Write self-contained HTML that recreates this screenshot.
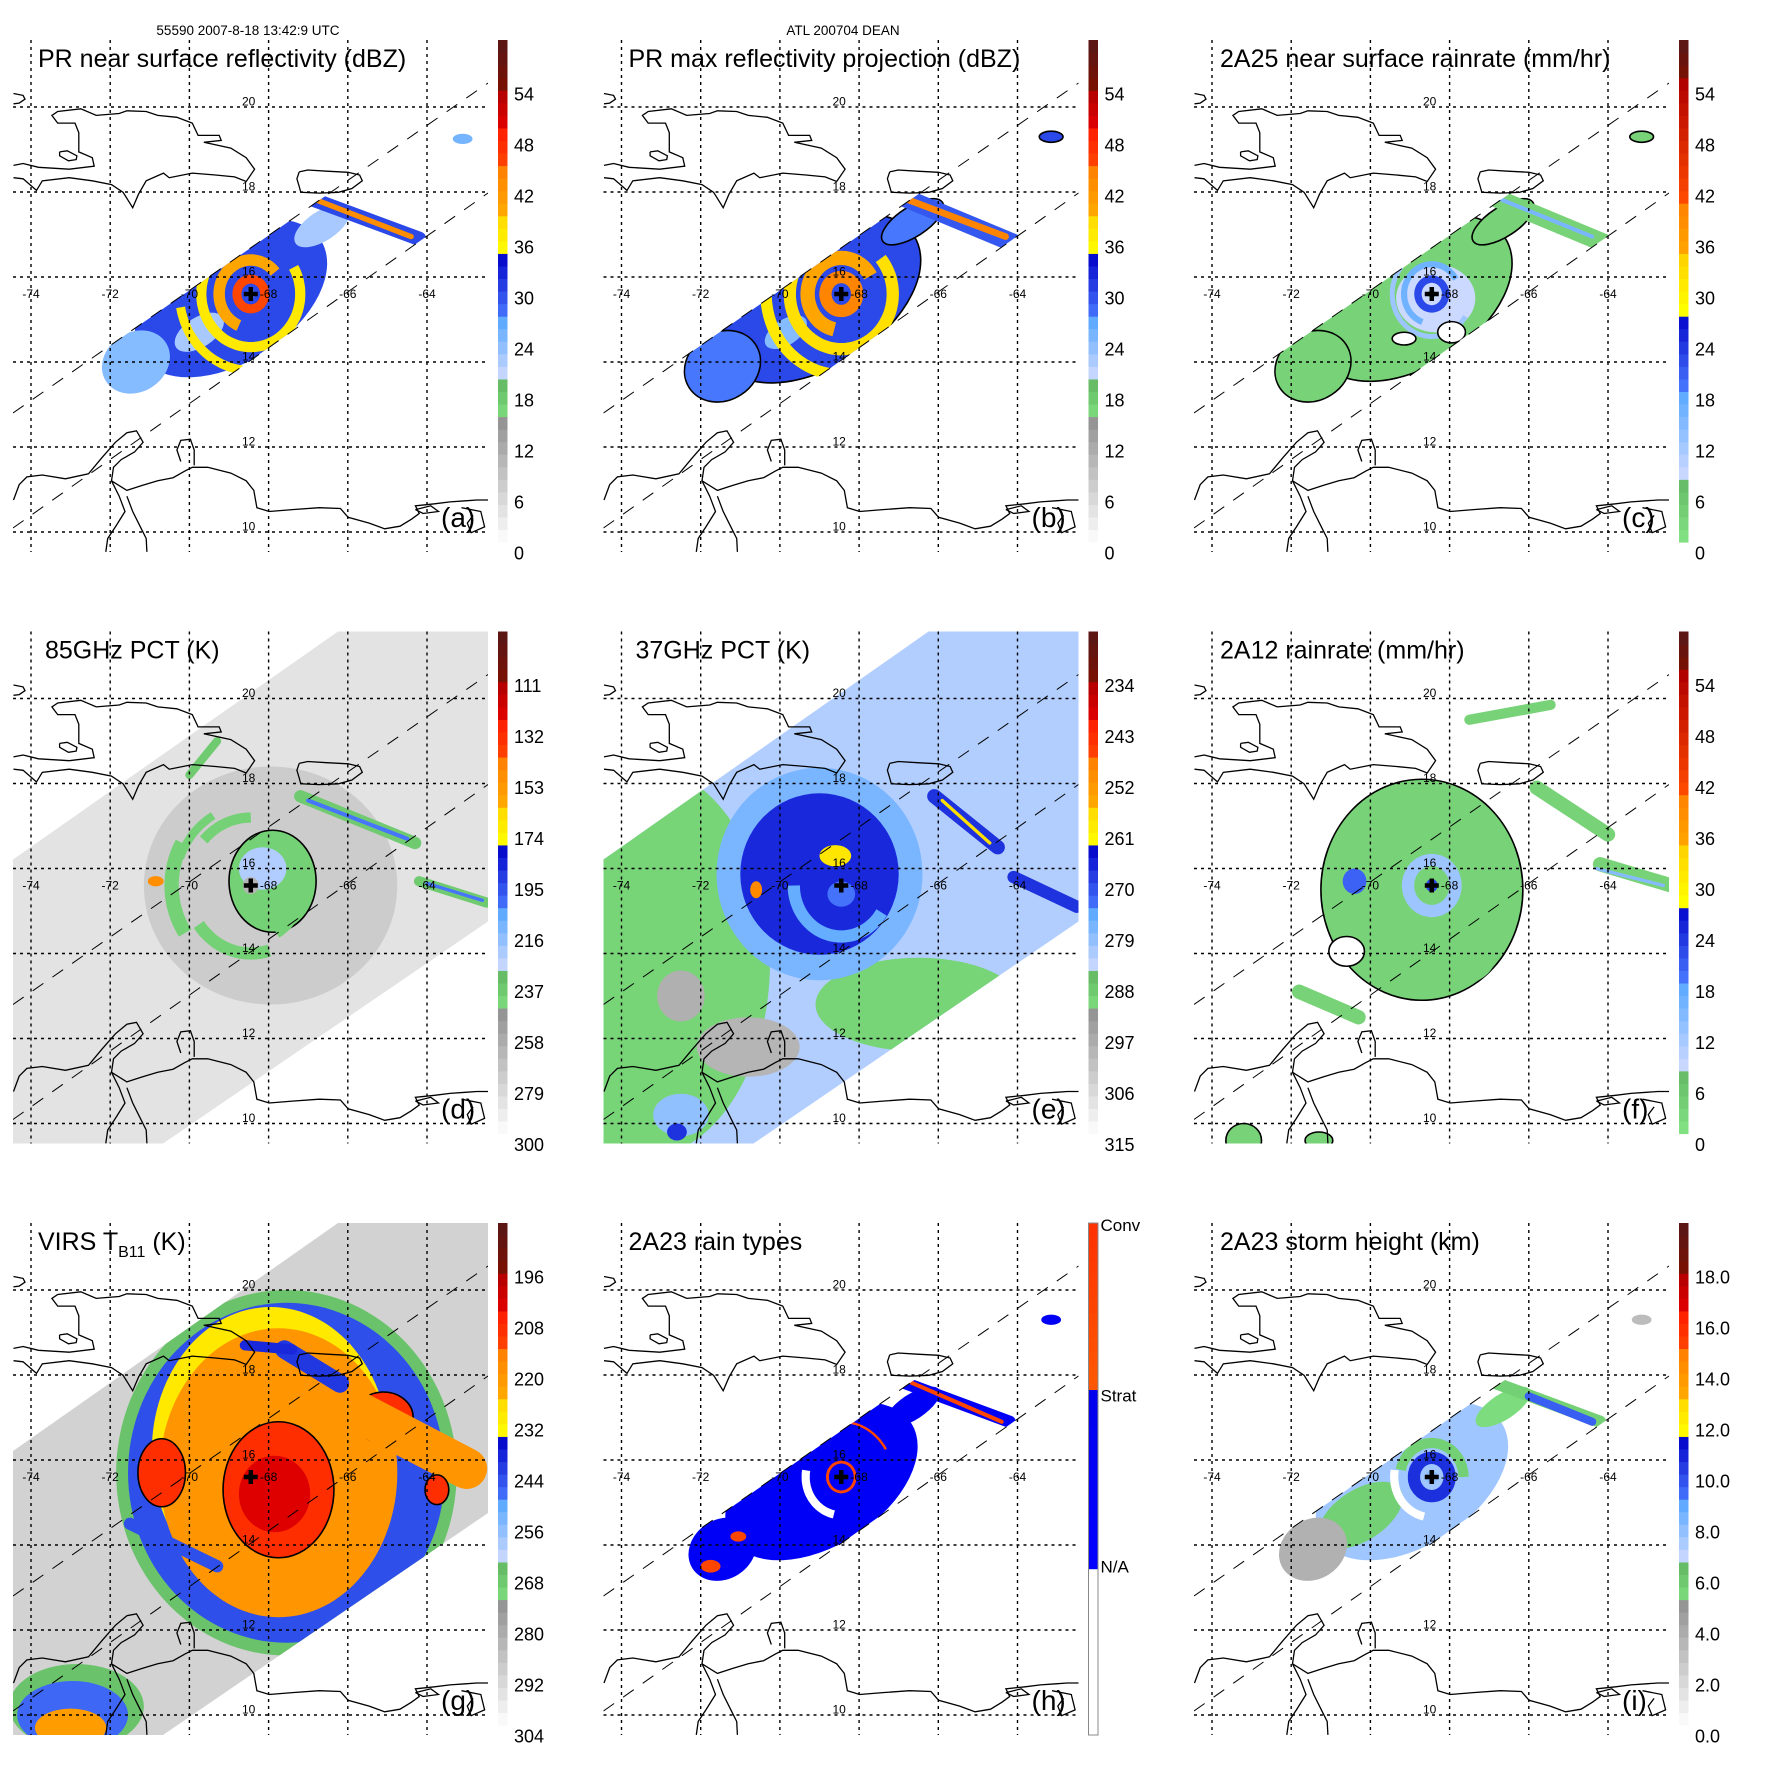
<!DOCTYPE html>
<html><head><meta charset="utf-8"><title>TRMM Hurricane Dean 9-panel</title>
<style>body{margin:0;background:#fff}svg{display:block;font-family:"Liberation Sans",sans-serif}</style></head>
<body>
<svg id="fig" width="1771" height="1771" viewBox="0 0 1771 1771" xmlns="http://www.w3.org/2000/svg">
<rect width="1771" height="1771" fill="#fff"/>
<text x="248" y="35" font-size="13.5" text-anchor="middle">55590 2007-8-18 13:42:9 UTC</text>
<text x="843" y="35" font-size="13.5" text-anchor="middle">ATL 200704 DEAN</text>
</svg>
<script>
// ---------- data ----------
const stormCenter=[-68.45,15.6];
const latTicks=[20,18,16,14,12,10];
const lonTicks=[-74,-72,-70,-68,-66,-64];
const panelIds=['a','b','c','d','e','f','g','h','i'];
const panelTitles=['PR near surface reflectivity (dBZ)','PR max reflectivity projection (dBZ)','2A25 near surface rainrate (mm/hr)','85GHz PCT (K)','37GHz PCT (K)','2A12 rainrate (mm/hr)','VIRS T','2A23 rain types','2A23 storm height (km)'];
const titleX=[25,25,26,32,32,26,25,25,26];
const vBottom=[0,0,0,300,315,0,304,0,0];
const vTop=[60,60,60,90,225,60,184,3,20];
const ticksDbz=['0','6','12','18','24','30','36','42','48','54'];
const ticksRain=['0','6','12','18','24','30','36','42','48','54'];
const ticks85=['300','279','258','237','216','195','174','153','132','111'];
const ticks37=['315','306','297','288','279','270','261','252','243','234'];
const ticksVirs=['304','292','280','268','256','244','232','220','208','196'];
const ticksHeight=['0.0','2.0','4.0','6.0','8.0','10.0','12.0','14.0','16.0','18.0'];
const ticksType=['N/A','Strat','Conv'];
const swathKind=['pr','pr','pr','tmi','tmi','tmi','tmi','pr','pr'];
const bgValue=[null,null,null,287,283,null,292,null,null];

// features: blobs/cells [dlon,dlat,rx,ry,value,contour,rotationDeg]; arcs [r,a0,a1,w,value]; bands [lon1,lat1,lon2,lat2,w,value,contour]
const blobsA=[[-0.5,-0.1,2.7,1.5,30,0,-33],[-2.9,-1.6,0.9,0.7,24,0,-33],[1.8,1.6,0.8,0.35,22,0,-33],[5.35,3.65,0.25,0.12,25,0,0],[-1.3,-0.9,0.7,0.35,22,0,-33]];
const arcsA=[[0.35,0,360,0.22,45],[0.8,40,250,0.28,40],[1.25,150,390,0.25,37],[1.8,190,300,0.22,37]];
const bandsA=[[-67.1,17.9,-64.2,16.9,0.35,30,0],[-66.9,17.85,-64.4,16.95,0.13,43,0]];
const cellsA=[[0,0,0.12,0.12,28,0,0]];

const blobsB=[[-0.6,-0.1,2.9,1.6,30,1,-33],[-3.0,-1.7,1.0,0.8,27,1,-33],[1.8,1.7,0.9,0.35,27,1,-33],[5.3,3.7,0.3,0.13,30,1,0],[-1.4,-0.9,0.6,0.3,24,0,-33]];
const arcsB=[[0.4,0,360,0.3,44],[0.85,30,260,0.35,40],[1.3,140,400,0.3,38],[1.9,180,300,0.28,37]];
const bandsB=[[-67.2,18.0,-64.1,16.8,0.45,29,1],[-67.0,17.9,-64.3,16.95,0.16,44,0]];
const cellsB=[[0,0,0.12,0.12,30,0,0]];

const blobsC=[[-0.5,-0.1,2.8,1.6,3,1,-33],[-3.0,-1.7,1.0,0.8,3,1,-33],[1.8,1.7,0.9,0.35,3,1,-33],[5.3,3.7,0.3,0.13,3,1,0],[0.1,-0.1,1.0,0.8,8,0,0]];
const arcsC=[[0.35,0,360,0.18,22],[0.7,30,250,0.15,16],[1.0,140,330,0.12,12]];
const bandsC=[[-67.2,18.0,-64.1,16.8,0.45,3,1],[-66.9,17.9,-64.4,16.95,0.1,15,0]];
const cellsC=[[0.5,-0.9,0.35,0.25,null,1,0],[-0.7,-1.05,0.3,0.15,null,1,0],[0,0,0.1,0.1,3,0,0]];

const blobsD=[[0.5,0,3.2,2.8,276,0,0],[0.55,0.1,1.1,1.2,243,1,0],[0.3,0.4,0.6,0.5,225,0,0]];
const arcsD=[[2.0,150,215,0.35,243],[1.6,215,290,0.3,243],[1.6,90,140,0.25,243],[1.9,120,160,0.2,243],[1.3,300,350,0.25,243]];
const bandsD=[[-67.2,17.7,-64.3,16.6,0.3,240,1],[-67.0,17.6,-64.5,16.7,0.1,205,0],[-64.2,15.7,-62.5,15.2,0.25,240,1],[-64.0,15.65,-62.6,15.25,0.08,205,0],[-70.0,18.2,-69.3,19.0,0.2,240,1]];
const cellsD=[[0,0,0.2,0.2,265,0,0],[-2.4,0.1,0.2,0.12,150,0,0]];

const blobsE=[[-5.0,-1.8,3.2,4.6,291,0,0],[1.95,-2.8,2.6,1.1,291,0,0],[-2.35,-3.8,1.3,0.7,300,0,0],[-4.05,-2.6,0.6,0.6,299,0,0],[-4.05,-5.4,0.7,0.5,280,0,0],[-0.55,0.27,2.6,2.5,278,0,0],[-0.55,0.27,2.0,1.9,267,0,0]];
const arcsE=[[1.2,180,330,0.3,276]];
const bandsE=[[-66.1,17.7,-64.5,16.5,0.35,268,0],[-65.9,17.6,-64.7,16.6,0.08,258,0],[-64.1,15.8,-62.5,15.1,0.3,268,0]];
const cellsE=[[0,-0.2,0.35,0.3,274,0,0],[-0.15,0.7,0.4,0.25,259,0,0],[-2.15,-0.1,0.15,0.2,250,0,0],[-4.15,-5.8,0.25,0.2,268,0,0]];

const blobsF=[[-0.25,-0.1,2.55,2.6,3,1,0],[0.4,-1.7,1.2,0.7,3,0,0],[-4.75,-6.0,0.45,0.4,3,1,0],[-2.85,-6.0,0.35,0.2,3,1,0]];
const arcsF=[[0.6,0,360,0.3,12]];
const bandsF=[[-65.8,17.9,-64.0,16.8,0.35,3,1],[-64.2,16.1,-62.4,15.6,0.35,3,1],[-67.5,19.5,-65.45,19.85,0.25,3,1],[-71.8,13.1,-70.3,12.5,0.35,3,1],[-64.3,16.0,-62.6,15.6,0.08,14,0]];
const cellsF=[[-2.15,-1.55,0.45,0.35,null,1,0],[-1.95,0.1,0.3,0.3,20,0,0],[0,0,0.15,0.15,22,0,0]];

const blobsG=[[0.9,0.1,4.3,4.3,268,0,0],[0.9,0.1,4.0,4.0,245,0,0],[0.5,0.6,3.0,3.4,230,0,0],[0.7,0.1,3.0,3.4,220,0,0],[0.7,-0.3,1.4,1.6,209,1,0],[0.6,-0.4,0.9,0.9,204,0,0],[-2.25,0.1,0.6,0.8,209,1,0],[3.35,1.4,0.75,0.6,209,1,0],[-4.4,-5.4,1.7,1.0,268,0,0],[-4.5,-5.6,1.4,0.8,248,0,0],[-4.55,-5.9,0.9,0.45,222,0,0]];
const arcsG=[];
const bandsG=[[-66.5,17.5,-63.0,15.8,1.0,220,0],[-71.5,14.5,-69.3,13.5,0.3,245,0],[-67.6,18.6,-66.2,17.8,0.45,242,0],[-68.6,18.7,-67.4,18.6,0.25,240,0]];
const cellsG=[[4.7,-0.3,0.3,0.35,209,1,0]];

const blobsH=[[-0.5,-0.1,2.7,1.5,1.5,0,-33],[-3.0,-1.7,0.9,0.7,1.5,0,-33],[1.8,1.65,0.8,0.3,1.5,0,-33],[5.3,3.7,0.25,0.12,1.5,0,0]];
const arcsH=[[0.9,170,260,0.2,0.5],[0.35,0,360,0.07,2.5],[1.3,30,150,0.06,2.5]];
const bandsH=[[-67.1,17.9,-64.2,16.9,0.3,1.5,0],[-67.0,17.95,-64.4,16.9,0.1,2.5,0]];
const cellsH=[[-3.3,-2.1,0.25,0.15,2.5,0,0],[-2.6,-1.4,0.2,0.12,2.5,0,0]];

const blobsI=[[-0.5,-0.1,2.7,1.5,7.5,0,-33],[-1.8,-0.9,1.2,0.6,5.5,0,-33],[-3.0,-1.7,0.9,0.7,3.5,0,-33],[1.8,1.65,0.8,0.3,5,0,-33],[5.3,3.7,0.25,0.12,3,0,0]];
const arcsI=[[0.8,0,170,0.25,5.5],[0.45,0,360,0.3,10.5],[0.95,170,260,0.2,null]];
const bandsI=[[-67.1,17.9,-64.2,16.9,0.3,5.5,0],[-66.0,17.5,-64.4,16.9,0.2,9.5,0]];
const cellsI=[[0,0,0.15,0.15,8,0,0]];

// coastlines digitised in reference pixels (converted to lon/lat below)
const coastHispaniola=[[35,430],[60,425],[100,435],[180,440],[245,432],[240,410],[205,395],[205,345],[195,320],[150,320],[135,300],[150,290],[210,283],[250,300],[310,295],[330,288],[380,290],[410,300],[460,305],[500,320],[515,352],[570,352],[575,365],[530,370],[600,385],[640,410],[662,440],[640,472],[610,460],[560,455],[500,450],[440,462],[425,450],[380,470],[360,505],[345,540],[320,500],[290,480],[240,470],[180,462],[110,470],[95,495],[60,465],[35,462]];
const coastLake=[[155,395],[175,392],[200,405],[198,415],[178,418],[155,405],[155,395]];
const coastCuba=[[35,243],[60,248],[65,258],[50,268],[35,270]];
const coastPR=[[778,447],[800,442],[850,445],[905,448],[935,455],[942,470],[915,490],[880,500],[830,502],[782,500],[778,485],[772,465],[778,447]];
const coastSA=[[35,1300],[50,1260],[70,1240],[110,1235],[170,1245],[230,1232],[265,1190],[300,1150],[330,1125],[355,1120],[372,1150],[350,1175],[315,1195],[295,1215],[290,1250],[330,1275],[370,1262],[410,1250],[450,1242],[480,1225],[500,1215],[540,1215],[600,1230],[640,1250],[660,1275],[668,1320],[700,1330],[760,1325],[830,1320],[885,1322],[905,1345],[960,1360],[1000,1375],[1040,1368],[1070,1350],[1090,1335],[1080,1315],[1130,1310],[1170,1305],[1210,1302],[1240,1300],[1270,1300]];
const coastParaguana=[[470,1200],[460,1170],[470,1145],[495,1142],[505,1170],[505,1210]];
const coastMaracaiboW=[[290,1250],[310,1290],[325,1330],[300,1370],[280,1400],[275,1435]];
const coastMaracaiboE=[[330,1290],[345,1330],[365,1370],[380,1400],[382,1435]];
const coastMargarita=[[1080,1325],[1120,1315],[1140,1330],[1100,1335],[1080,1325]];
const coastTrinidad=[[1200,1320],[1250,1330],[1260,1370],[1225,1385],[1215,1360],[1230,1340]];

// ---------- palettes ----------
const palA=[[0,0.238,'#ffffff','#959595'],[0.238,0.322,'#82e282','#62b862'],[0.322,0.445,'#d4dcff','#58a8ff'],[0.445,0.575,'#4a7cff','#0000c8'],[0.575,0.66,'#ffff00','#ffd200'],[0.66,0.743,'#ffa800','#ff8000'],[0.743,0.83,'#ff4a00','#ff1800'],[0.83,0.9,'#e00000','#b00000'],[0.9,1.0001,'#7a1000','#581818']];
const palB=[[0,0.12,'#84e484','#66bb66'],[0.12,0.30,'#d4dcff','#58a8ff'],[0.30,0.46,'#4a7cff','#0000c8'],[0.46,0.57,'#ffff00','#ffd200'],[0.57,0.68,'#ffa800','#ff8000'],[0.68,0.92,'#ff4a00','#b00000'],[0.92,1.0001,'#7a1000','#581818']];
const palH=[[0,0.3333,'#ffffff','#ffffff'],[0.3333,0.6667,'#0000ff','#0000ee'],[0.6667,1.0001,'#ff5a00','#ff3000']];
const panelPal=[palA,palA,palB,palA,palA,palB,palA,palH,palA];
const panelTicks=[ticksDbz,ticksDbz,ticksRain,ticks85,ticks37,ticksRain,ticksVirs,ticksType,ticksHeight];
const panelBlobs=[blobsA,blobsB,blobsC,blobsD,blobsE,blobsF,blobsG,blobsH,blobsI];
const panelArcs=[arcsA,arcsB,arcsC,arcsD,arcsE,arcsF,arcsG,arcsH,arcsI];
const panelBands=[bandsA,bandsB,bandsC,bandsD,bandsE,bandsF,bandsG,bandsH,bandsI];
const panelCells=[cellsA,cellsB,cellsC,cellsD,cellsE,cellsF,cellsG,cellsH,cellsI];

// ---------- layout ----------
const colX=[13,603.5,1194], rowY=[40,631.5,1223];
const MAPW=475, MAPH=512, KX=39.6, KY=42.5;
function xLon(lon){return 18+(lon+74)*KX;}
function yLat(lat){return 67+(20-lat)*KY;}
function digLon(zx){return -74+(zx-80.6)/102.96;}
function digLat(zy){return 20-(zy-278.2)/110.5;}
const NS='http://www.w3.org/2000/svg';
const svg=document.getElementById('fig');
function mk(tag,attrs,parent){const e=document.createElementNS(NS,tag);for(const k in attrs)e.setAttribute(k,attrs[k]);parent.appendChild(e);return e;}
function rgb(h){return [parseInt(h.slice(1,3),16),parseInt(h.slice(3,5),16),parseInt(h.slice(5,7),16)];}
function palColor(pal,f){f=Math.max(0,Math.min(0.9999,f));for(const s of pal){if(f>=s[0]&&f<s[1]){const t=(f-s[0])/(s[1]-s[0]);const a=rgb(s[2]),b=rgb(s[3]);return 'rgb('+a.map((v,i)=>Math.round(v+(b[i]-v)*t)).join(',')+')';}}return '#fff';}

const prSwath=[[0,373],[475,43],[475,153],[0,488]];
const tmiSwath=[[0,228],[325,0],[475,0],[475,290],[150,512],[0,512]];

panelIds.forEach((pid,p)=>{
  const c=p%3, r=Math.floor(p/3);
  const pal=panelPal[p];
  const col=v=>v===null?'#ffffff':palColor(pal,(v-vBottom[p])/(vTop[p]-vBottom[p]));
  const g=mk('g',{transform:'translate('+colX[c]+','+rowY[r]+')'},svg);
  
  
  const defs=mk('defs',{},g);
  const cr=mk('clipPath',{id:'map'+pid},defs);
  mk('rect',{x:0,y:0,width:MAPW,height:MAPH},cr);
  const cs=mk('clipPath',{id:'sw'+pid},defs);
  const sw=swathKind[p]==='pr'?prSwath:tmiSwath;
  mk('polygon',{points:sw.map(q=>q.join(',')).join(' ')},cs);
  const mapG=mk('g',{'clip-path':'url(#map'+pid+')'},g);
  
  
  const data=mk('g',{'clip-path':'url(#sw'+pid+')'},mapG);
  
  
  if(bgValue[p]!==null){
    const bg=mk('rect',{x:0,y:0,width:MAPW,height:MAPH,fill:col(bgValue[p])},data);
    
    
  }
  const cx=xLon(stormCenter[0]), cy=yLat(stormCenter[1]);
  const drawBlob=(b,name)=>{
    const ex=xLon(stormCenter[0]+b[0]), ey=yLat(stormCenter[1]+b[1]);
    const e=mk('ellipse',{cx:ex,cy:ey,rx:b[2]*KX,ry:b[3]*KY,fill:col(b[4]),stroke:b[5]?'#000':'none','stroke-width':1.6,transform:'rotate('+(b[6]||0)+','+ex+','+ey+')'},data);
    
    
  };
  panelBlobs[p].forEach(b=>drawBlob(b,'rain-area'));
  panelBands[p].forEach(b=>{
    const ln=mk('line',{x1:xLon(b[0]),y1:yLat(b[1]),x2:xLon(b[2]),y2:yLat(b[3]),stroke:col(b[5]),'stroke-width':b[4]*41,'stroke-linecap':'round'},data);
    
    
  });
  panelArcs[p].forEach(a=>{
    const pts=[];
    for(let t=a[1];t<=a[2]+0.01;t+=4){const th=t*Math.PI/180;pts.push((cx+a[0]*KX*Math.cos(th)).toFixed(1)+','+(cy-a[0]*KY*Math.sin(th)).toFixed(1));}
    const pl=mk('polyline',{points:pts.join(' '),fill:'none',stroke:col(a[4]),'stroke-width':a[3]*41},data);
    
    
  });
  panelCells[p].forEach(b=>drawBlob(b,'rain-cell'));
  [coastHispaniola,coastLake,coastCuba,coastPR,coastSA,coastParaguana,coastMaracaiboW,coastMaracaiboE,coastMargarita,coastTrinidad].forEach(cl=>{
    const pl=mk('polyline',{points:cl.map(q=>xLon(digLon(q[0])).toFixed(1)+','+yLat(digLat(q[1])).toFixed(1)).join(' '),fill:'none',stroke:'#000','stroke-width':1.3},mapG);
    
    
  });
  [[prSwath[0],prSwath[1]],[prSwath[3],prSwath[2]]].forEach(s=>{
    const ln=mk('line',{x1:s[0][0],y1:s[0][1],x2:s[1][0],y2:s[1][1],stroke:'#000','stroke-width':1,'stroke-dasharray':'13,11'},mapG);
    
    
  });
  latTicks.forEach(lat=>{
    const y=yLat(lat);
    const ln=mk('line',{x1:0,y1:y,x2:MAPW,y2:y,stroke:'#000','stroke-width':1.4,'stroke-dasharray':'3,4'},g);
    
    
    const t=mk('text',{x:229,y:y-1.5,'font-size':12},g);t.textContent=String(lat);
    
    
  });
  lonTicks.forEach(lon=>{
    const x=xLon(lon);
    const ln=mk('line',{x1:x,y1:0,x2:x,y2:MAPH,stroke:'#000','stroke-width':1.4,'stroke-dasharray':'3,4'},g);
    
    
    const t=mk('text',{x:x,y:258,'font-size':12,'text-anchor':'middle'},g);t.textContent=String(lon);
    
    
  });
  const cm=mk('path',{d:'M'+(cx-7)+','+cy+'h14M'+cx+','+(cy-7)+'v14',stroke:'#000','stroke-width':4.5},g);
  
  
  const tt=mk('text',{x:titleX[p],y:27,'font-size':25},g);
  
  
  if(pid==='g'){tt.textContent='VIRS T';const s1=mk('tspan',{dy:7,'font-size':16},tt);s1.textContent='B11';const s2=mk('tspan',{dy:-7},tt);s2.textContent=' (K)';}
  else tt.textContent=panelTitles[p];
  const lt=mk('text',{x:428,y:487,'font-size':28},g);lt.textContent='('+pid+')';
  
  
  const cb=mk('g',{},g);
  
  
  const barH=pid==='h'?512:502, N=40;
  for(let i=0;i<N;i++){
    const f=(i+0.5)/N;
    const rc=mk('rect',{x:485,y:barH-(i+1)*barH/N,width:9.5,height:barH/N+0.6,fill:palColor(pal,f)},cb);
    
    
  }
  if(pid==='h'){
    const ob=mk('rect',{x:485,y:0,width:9.5,height:barH,fill:'none',stroke:'#888','stroke-width':1},cb);
    
    
    panelTicks[p].forEach((lab,k)=>{
      const t=mk('text',{x:497,y:barH-(k+1)*barH/3+8,'font-size':17},cb);t.textContent=lab;
      
      
    });
  } else {
    panelTicks[p].forEach((lab,k)=>{
      const t=mk('text',{x:501,y:513-k*51+6.5,'font-size':18},cb);t.textContent=lab;
      
      
    });
  }
});
</script>
</body></html>
